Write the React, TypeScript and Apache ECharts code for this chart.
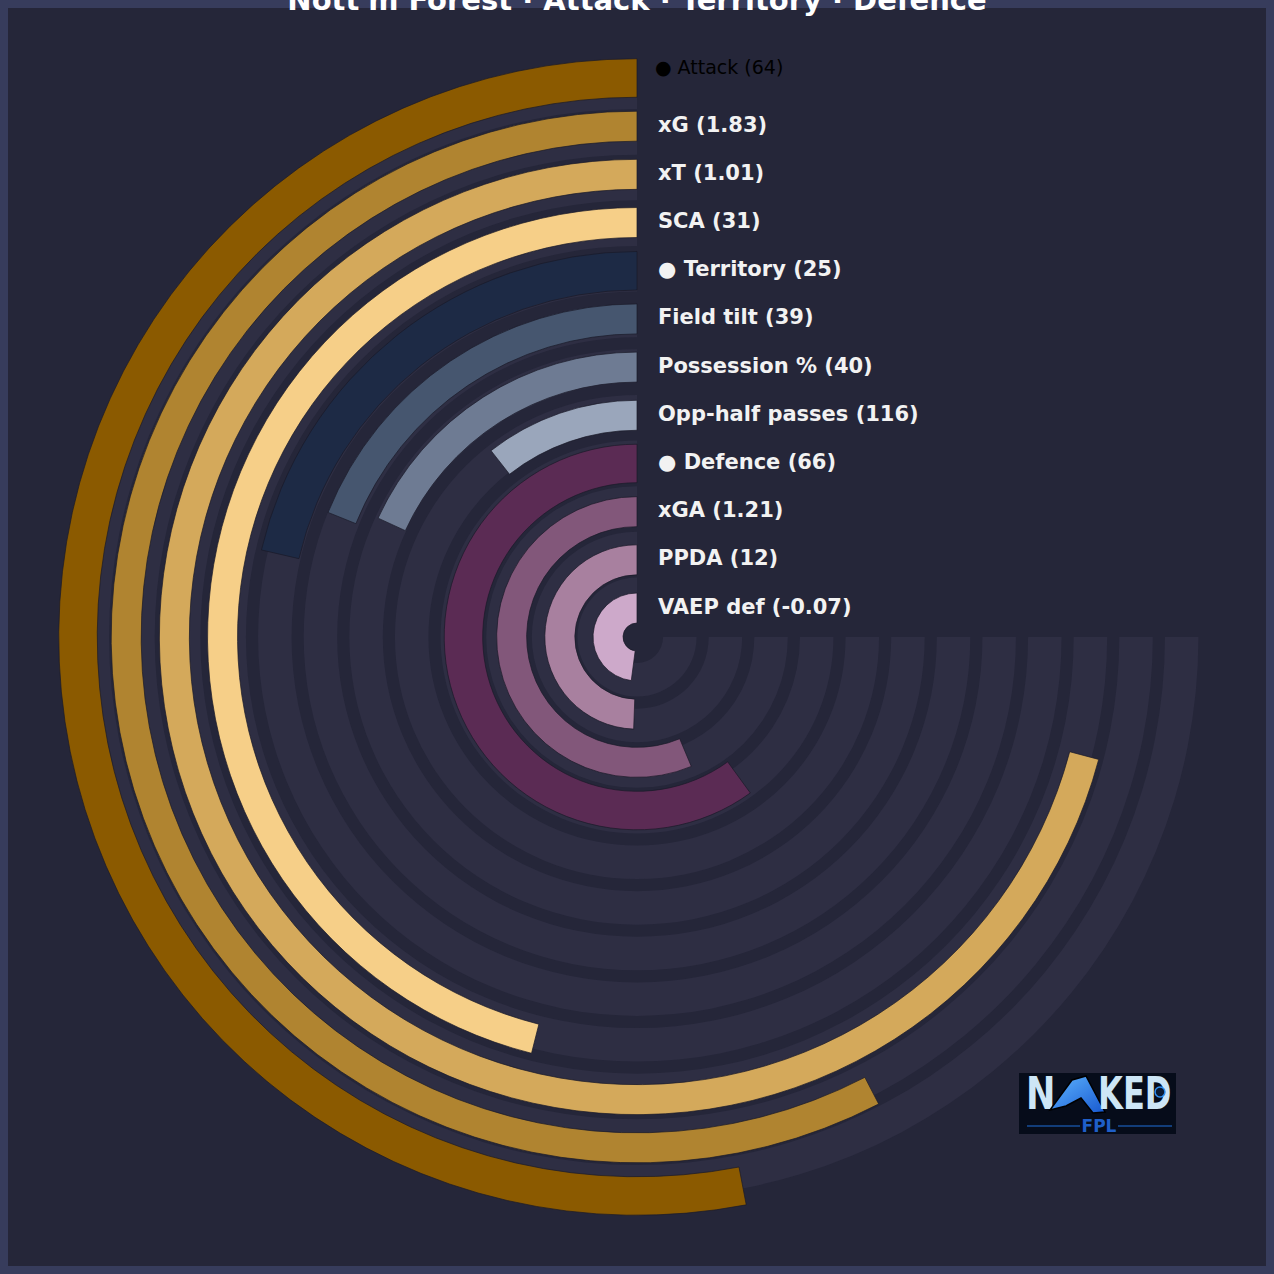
import React, { useEffect, useRef } from 'react';
import * as echarts from 'echarts';

// inner -> outer
const metricNames = ['VAEP def', 'PPDA', 'xGA', 'Defence', 'Opp-half passes', 'Possession %', 'Field tilt', 'Territory', 'SCA', 'xT', 'xG', 'Attack'];
const metricValues = ['-0.07', '12', '1.21', '66', '116', '40', '39', '25', '31', '1.01', '1.83', '64'];
const isGroup = [false, false, false, true, false, false, false, true, false, false, false, true];
// bar length as % of the 270° track
const barPct = [63.9, 65.9, 75.1, 80.0, 14.1, 24.2, 25.2, 28.5, 61.4, 94.5, 76.8, 70.7];
const barColors = ['#cda9ca', '#a8809f', '#82577a', '#5b2b54', '#9aa6bb', '#6e7b93', '#46566f', '#1d2a45', '#f6cf88', '#d4a95b', '#b08430', '#8b5a00'];
const trackFull = 100;
const titleText = "Nott'm Forest · Attack · Territory · Defence";

const CX = 637;
const CY = 637;
const BAR_R0 = 4.9;
const BAR_R1 = 583.1;
const TRACK_R0 = 20;
const TRACK_R1 = 567.5;
const ANGLE_MAX = (100 * 360) / 270;
const FONT = 'DejaVu Sans';

export default function App() {
  const ref = useRef<HTMLDivElement>(null);
  useEffect(() => {
    if (!ref.current) return;
    const chart = echarts.init(ref.current, undefined, { renderer: 'svg' });
    const band = (BAR_R1 - BAR_R0) / metricNames.length;

    const labelTexts = metricNames.map((n, i) => (isGroup[i] ? '● ' : '') + n + ' (' + metricValues[i] + ')');
    const labels = labelTexts.map((t, i) => {
      const r = BAR_R0 + band * (i + 0.5);
      const outer = i === metricNames.length - 1;
      return {
        type: 'text',
        z: 20,
        x: outer ? 655 : 658,
        y: CY - r - (outer ? 11 : 1.5),
        style: {
          text: t,
          fill: outer ? '#000000' : '#f2f2f2',
          font: (outer ? 'normal ' : 'bold ') + (outer ? '19px ' : '21px ') + FONT,
          align: 'left',
          verticalAlign: 'middle',
        },
      };
    });

    const axisHidden = { show: false };
    const option: any = {
      animation: false,
      backgroundColor: '#373c5c',
      polar: [
        { center: [CX, CY], radius: [TRACK_R0, TRACK_R1] },
        { center: [CX, CY], radius: [BAR_R0, BAR_R1] },
        { center: [CX, CY], radius: [BAR_R0, BAR_R1] },
      ],
      angleAxis: [0, 1, 2].map((p) => ({
        polarIndex: p, type: 'value', min: 0, max: ANGLE_MAX, startAngle: 90, clockwise: false,
        ...axisHidden, splitLine: { show: false }, axisLine: { show: false }, axisLabel: { show: false }, axisTick: { show: false },
      })),
      radiusAxis: [0, 1, 2].map((p) => ({
        polarIndex: p, type: 'category', data: metricNames,
        ...axisHidden, splitLine: { show: false }, axisLine: { show: false }, axisLabel: { show: false }, axisTick: { show: false },
      })),
      series: [
        {
          type: 'bar', coordinateSystem: 'polar', polarIndex: 0, barWidth: 33.5, silent: true,
          data: metricNames.map(() => trackFull),
          itemStyle: { color: '#2e2e43' },
          z: 1,
        },
        {
          type: 'bar', coordinateSystem: 'polar', polarIndex: 1, barWidth: 30, silent: true,
          data: barPct.map((v, i) => (isGroup[i] ? '-' : { value: v, itemStyle: { color: barColors[i] } })),
          itemStyle: { borderColor: 'rgba(25,25,40,0.7)', borderWidth: 1 },
          z: 3,
        },
        {
          type: 'bar', coordinateSystem: 'polar', polarIndex: 2, barWidth: 38.5, silent: true,
          data: barPct.map((v, i) => (!isGroup[i] ? '-' : { value: v, itemStyle: { color: barColors[i] } })),
          itemStyle: { borderColor: 'rgba(25,25,40,0.7)', borderWidth: 1 },
          z: 3,
        },
      ],
      graphic: [
        { type: 'rect', z: -10, silent: true, shape: { x: 8, y: 8, width: 1258, height: 1258 }, style: { fill: '#252639' } },
        {
          type: 'text', z: 30, x: CX, y: 0,
          style: { text: titleText, fill: '#ffffff', font: 'bold 29px ' + FONT, align: 'center', verticalAlign: 'middle' },
        },
        ...labels,
        {
          type: 'group', z: 30, children: [
            { type: 'rect', shape: { x: 1019, y: 1073, width: 157, height: 61 }, style: { fill: '#060c1a' } },
            { type: 'text', x: 1026, y: 1094, scaleX: 0.8, style: { text: 'N', fill: '#cde6f6', font: 'bold 44px ' + FONT, align: 'left', verticalAlign: 'middle' } },
            { type: 'polygon', shape: { points: [[1050, 1110], [1072, 1080], [1086, 1076], [1105, 1112], [1093, 1113], [1081, 1098], [1066, 1106]] },
              style: { fill: new echarts.graphic.LinearGradient(0, 0, 1, 1, [{ offset: 0, color: '#5fb6ff' }, { offset: 1, color: '#1758d0' }]), stroke: '#000000', lineWidth: 1.5 } },
            { type: 'text', x: 1098, y: 1094, scaleX: 0.73, style: { text: 'KED', fill: '#cde6f6', font: 'bold 44px ' + FONT, align: 'left', verticalAlign: 'middle' } },
            { type: 'circle', shape: { cx: 1160, cy: 1092, r: 5 }, style: { fill: '#0a1a33', stroke: '#2f8ff0', lineWidth: 1.5 } },
            { type: 'line', shape: { x1: 1027, y1: 1126, x2: 1080, y2: 1126 }, style: { stroke: '#1f6fd8', lineWidth: 1 } },
            { type: 'line', shape: { x1: 1118, y1: 1126, x2: 1172, y2: 1126 }, style: { stroke: '#1f6fd8', lineWidth: 1 } },
            { type: 'text', x: 1099, y: 1126, style: { text: 'FPL', fill: '#1f5fc8', font: 'bold 17px ' + FONT, align: 'center', verticalAlign: 'middle' } },
          ],
        },
      ],
    };
    chart.setOption(option);
    return () => chart.dispose();
  }, []);
  return <div ref={ref} style={{ position: 'absolute', left: 0, top: 0, width: 1274, height: 1274 }} />;
}
